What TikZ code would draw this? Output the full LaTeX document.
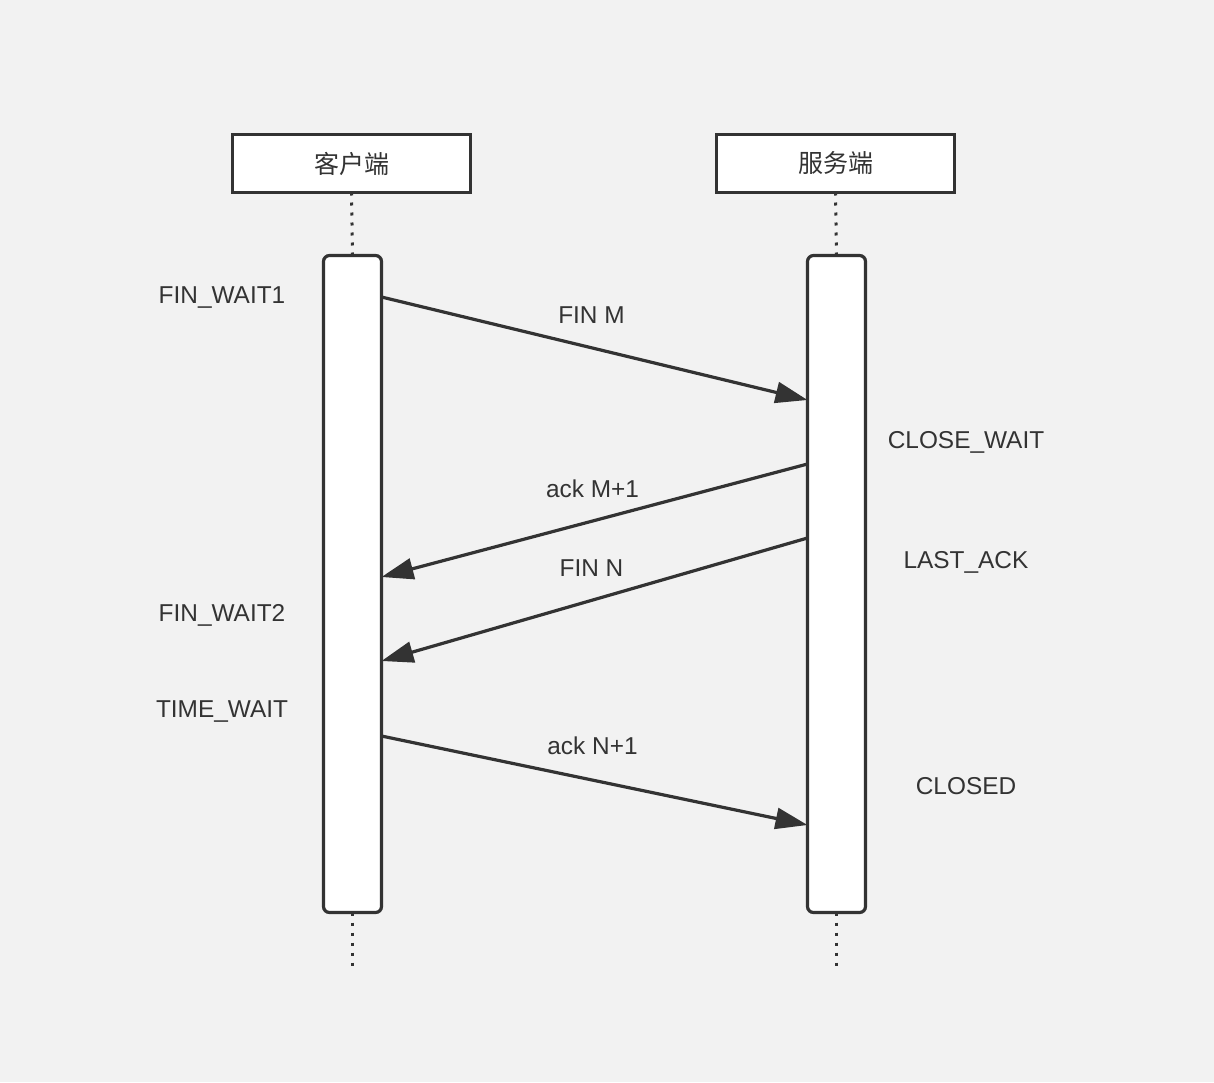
\documentclass[tikz,border=0pt]{standalone}
\usepackage{fontspec}
\setmainfont{Liberation Sans}
\newfontfamily\cjk{Noto Sans CJK SC}
\usepackage{tikz}
\usetikzlibrary{arrows.meta, positioning, calc}

\definecolor{ink}{HTML}{333333}
\definecolor{paper}{HTML}{F2F2F2}

\begin{document}
\begin{tikzpicture}[
    x=0.5pt, y=-0.5pt,
    head/.style={rectangle, draw=ink, line width=1.75pt, fill=white, outer sep=0pt,
      minimum width=119pt, minimum height=29pt, font=\cjk\fontsize{12.5}{15}\selectfont, text=ink},
    bar/.style={rectangle, draw=ink, line width=1.6pt, fill=white, rounded corners=3pt,
      outer sep=0pt, minimum width=29pt, minimum height=328.5pt},
    life/.style={draw=ink, line width=1.5pt, dash pattern=on 1.5pt off 3.5pt},
    msg/.style={draw=ink, line width=1.6pt, -{Triangle[length=16pt, width=10.5pt]}},
    lbl/.style={text=ink, font=\fontsize{12.2}{14}\selectfont},
    state/.style={lbl, yshift=-1.5pt}
]

% Background
\fill[paper] (0,0) rectangle (1214,1082);
\useasboundingbox (0,0) rectangle (1214,1082);

% Participants
\node[head] (client) at (351.5,163.5) {客户端};
\node[head] (server) at (835.5,163.5) {服务端};

% Activation bars
\node[bar, below=31.5pt of client.south, anchor=north, xshift=0.5pt] (cbar) {};
\node[bar, below=31.5pt of server.south, anchor=north, xshift=0.5pt] (sbar) {};

% Lifelines
\coordinate (cend) at ($(cbar.south)+(0,54)$);
\coordinate (send) at ($(sbar.south)+(0,54)$);
\draw[life] (client.south) -- (cbar.north);
\draw[life] (server.south) -- (sbar.north);
\draw[life] (cbar.south) -- (cend);
\draw[life] (sbar.south) -- (send);

% Message anchors
\coordinate (c1) at ($(cbar.north east)+(0,41.5)$);
\coordinate (s1) at ($(sbar.north west)+(0,144.5)$);
\coordinate (s2) at ($(sbar.north west)+(0,208.5)$);
\coordinate (c2) at ($(cbar.north east)+(0,321.5)$);
\coordinate (s3) at ($(sbar.north west)+(0,282.5)$);
\coordinate (c3) at ($(cbar.north east)+(0,405.5)$);
\coordinate (c4) at ($(cbar.north east)+(0,480.5)$);
\coordinate (s4) at ($(sbar.north west)+(0,569.5)$);

% Messages
\draw[msg] (c1) -- node[lbl, midway, yshift=16.5pt, xshift=-1.5pt] (m1) {FIN M} (s1);
\draw[msg] (s2) -- node[lbl, midway, yshift=16pt, xshift=-1pt] (m2) {ack M+1} (c2);
\draw[msg] (s3) -- node[lbl, midway, yshift=15.5pt, xshift=-1.5pt] (m3) {FIN N} (c3);
\draw[msg] (c4) -- node[lbl, midway, yshift=17.5pt, xshift=-1pt] (m4) {ack N+1} (s4);

% States
\node[state] (fw1) at (222,295) {FIN\_WAIT1};
\node[state] (fw2) at (222,612) {FIN\_WAIT2};
\node[state] (tw) at (222,709) {TIME\_WAIT};
\node[state] (cw) at (966,439) {CLOSE\_WAIT};
\node[state] (la) at (966,559) {LAST\_ACK};
\node[state] (cl) at (966,783) {CLOSED};

\end{tikzpicture}
\end{document}
